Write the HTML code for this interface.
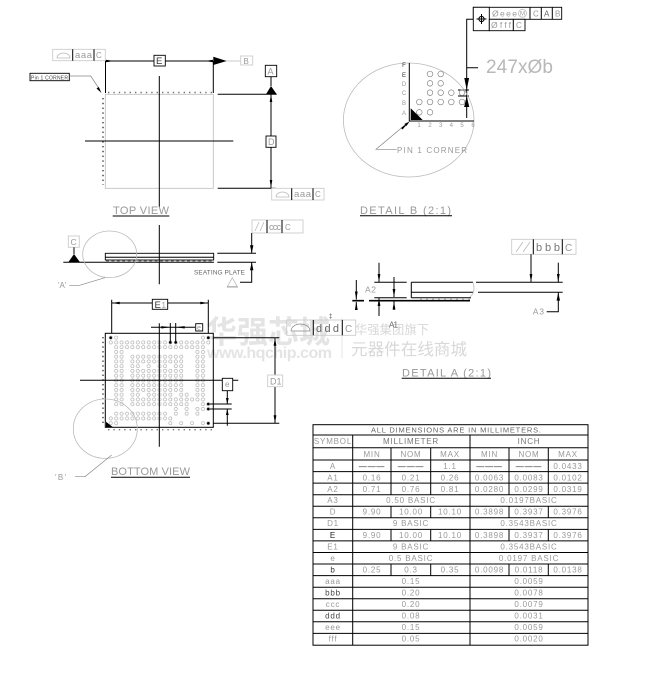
<!DOCTYPE html>
<html><head><meta charset="utf-8"><style>
html,body{margin:0;padding:0;background:#fff}
svg{display:block}
text{font-family:"Liberation Sans","Noto Sans CJK SC",sans-serif;fill:#999}
.k{stroke:#000;stroke-width:1;fill:none}
.g{stroke:#bbb;stroke-width:.8;fill:none}
.d{stroke:#888;stroke-width:.7;fill:none}
.b{fill:#fff;stroke:#000;stroke-width:.9}
.bg{fill:#fff;stroke:#ccc;stroke-width:.9}
.t{font-size:8px;text-anchor:middle;letter-spacing:.8px}
.a{marker-end:url(#a)}
</style></head><body>
<svg width="664" height="679" viewBox="0 0 664 679" xmlns="http://www.w3.org/2000/svg">
<defs>
<marker id="a" markerUnits="userSpaceOnUse" markerWidth="8" markerHeight="4" refX="8" refY="2" orient="auto"><path d="M0 .6L8 2L0 3.4z" fill="#000"/></marker>
<pattern id="r" patternUnits="userSpaceOnUse" x="108" y="335.3" width="5.42" height="4.75"><circle cx="2.71" cy="2.375" r="1.6" fill="none" stroke="#aaa" stroke-width=".6"/></pattern>
</defs>

<!-- watermark -->
<g>
<text x="206" y="343" font-size="31" font-weight="700" style="fill:#e4e4e4" textLength="124">华强芯城</text>
<text x="207" y="358" font-size="16" font-weight="700" style="fill:#e4e4e4;font-family:'Liberation Sans',sans-serif" textLength="125">www.hqchip.com</text>
<line x1="342" y1="318" x2="342" y2="358" stroke="#e4e4e4"/>
<text x="355" y="334" font-size="12.3" style="fill:#d8d8d8" textLength="74">华强集团旗下</text>
<text x="351" y="355" font-size="16.5" style="fill:#d8d8d8" textLength="116">元器件在线商城</text>
</g>

<!-- TOP VIEW -->
<rect x="52.7" y="49.3" width="52.6" height="11.4" class="bg"/>
<path d="M72.7 49.3V60.7M94 49.3V60.7" class="k" stroke-width=".8"/>
<path d="M57 58a6.5 5 0 0 1 13 0z" class="g"/>
<text x="75" y="58" font-size="9.5" textLength="17">aaa</text><text x="96" y="58" font-size="8">C</text>
<line x1="105.5" y1="61" x2="213" y2="61" class="k"/>
<path d="M105.5 61V93M213.3 61V93" class="k"/>
<path d="M114 61l-8-1.2v2.4z" fill="#000"/><path d="M205 61l8-1.2v2.4z" fill="#000"/>
<path d="M213.3 56.7L226.7 61L213.3 65z" fill="#000"/>
<line x1="226" y1="61" x2="240" y2="61" class="g"/>
<rect x="240.7" y="56" width="12" height="9" class="bg"/><text x="243.5" y="64" font-size="8">B</text>
<rect x="154" y="55.3" width="11.3" height="10.7" class="b"/><text x="156" y="64" font-size="9.5" style="fill:#333">E</text>
<rect x="30" y="73.3" width="39.3" height="7.4" class="b"/><text x="31" y="79.5" font-size="5" textLength="37" style="fill:#444">Pin 1 CORNER</text>
<path d="M69.3 76H90.7L100 90" class="d"/><path d="M101.5 93l-5-4.5 2.2-1.5z" fill="#000"/>
<rect x="105.3" y="94.3" width="108" height="94" class="g"/>
<path d="M108 92.5H212" stroke="#777" stroke-width="1.4" stroke-dasharray="1.4 4" fill="none"/>
<path d="M103 98V185" stroke="#555" stroke-width="1.6" stroke-dasharray="1.4 3.4" fill="none"/>
<path d="M159.3 76V206.7M85 141H233.3" class="k"/>
<path d="M217.7 94.3H276.7M217.7 188.3H275.5M271 76.7V86M271 94V188" class="k"/>
<path d="M266 94.3L271 86L276.7 94.3z" fill="#000"/>
<path d="M271 94l-1.3 8h2.6zM271 188l-1.3-8h2.6z" fill="#000"/>
<rect x="265.3" y="65.3" width="11.4" height="11.4" class="b"/><text x="267.5" y="74.5" font-size="9">A</text>
<rect x="266" y="136" width="10" height="11.3" class="b"/><text x="268" y="145" font-size="9">D</text>
<rect x="271.7" y="188.3" width="52.3" height="11.7" class="bg"/>
<path d="M291.7 188.3V200M313 188.3V200" class="k" stroke-width=".8"/>
<path d="M276 197a6.5 5 0 0 1 13 0z" class="g"/>
<text x="294" y="197" font-size="9.5" textLength="17">aaa</text><text x="315" y="197" font-size="8">C</text>
<text x="113" y="214" font-size="11" textLength="56">TOP  VIEW</text>
<line x1="112.7" y1="216" x2="169.3" y2="216" class="k"/>

<!-- DETAIL B -->
<rect x="473.3" y="7.3" width="88.4" height="12" class="b"/>
<rect x="473.3" y="7.3" width="16" height="23.4" class="b"/>
<rect x="489.3" y="19.3" width="35.7" height="11.4" class="b"/>
<path d="M530 7.3V19.3M541.3 7.3V19.3M552.3 7.3V19.3M513.3 19.3V30.7" class="k"/>
<circle cx="481.5" cy="19" r="2.6" class="k" stroke-width=".7"/><path d="M476.5 19H486.5M481.5 14V24" class="k"/>
<text x="492" y="16.5" font-size="8.5" textLength="25">Øeee</text>
<circle cx="522.5" cy="13.3" r="4" class="g"/><text x="520" y="15.5" font-size="6">M</text>
<text x="533" y="16.5" font-size="8">C</text><text x="544" y="16.5" font-size="8" style="fill:#666">A</text><text x="555" y="16.5" font-size="8">B</text>
<text x="491" y="28" font-size="8.5" textLength="20">Øfff</text><text x="516" y="28" font-size="8">C</text>
<path d="M473 19.3H466.7V118M466.7 67.7H478" class="k"/>
<text x="486" y="73" font-size="19" textLength="67" style="fill:#b8b8b8">247xØb</text>
<path d="M466.7 78l-2.4 0 2.4 12 2.4-12zM466.7 107l-2.6 0 2.6-11 2.6 11z" fill="#000"/>
<path d="M458 90H469M458 96H469" class="k"/>
<ellipse cx="408.7" cy="120" rx="65.3" ry="57" class="g"/>
<path d="M409.3 63V121H474" class="k"/>
<path d="M410.7 108.3V120H422.7z" fill="#000"/>
<g class="d">
<circle cx="430" cy="74" r="2.8"/><circle cx="440.7" cy="74" r="2.8"/>
<circle cx="430" cy="83.3" r="2.8"/><circle cx="440.7" cy="83.3" r="2.8"/>
<circle cx="430" cy="92.7" r="2.8"/><circle cx="440.7" cy="92.7" r="2.8"/><circle cx="451.3" cy="92.7" r="2.8"/><circle cx="462" cy="92.7" r="2.8"/>
<circle cx="419.3" cy="102" r="2.8"/><circle cx="430" cy="102" r="2.8"/><circle cx="440.7" cy="102" r="2.8"/><circle cx="451.3" cy="102" r="2.8"/><circle cx="462" cy="102" r="2.8"/>
<circle cx="419.3" cy="112.3" r="2.8"/><circle cx="430" cy="112.3" r="2.8"/>
</g>
<g font-size="6" text-anchor="middle">
<text x="404" y="67" style="fill:#333">F</text><text x="404" y="77" style="fill:#333">E</text><text x="404" y="86">D</text><text x="404" y="95">C</text><text x="404" y="105">B</text><text x="404" y="115">A</text>
<text x="419" y="127">1</text><text x="430" y="127">2</text><text x="440.7" y="127">3</text><text x="451.3" y="127">4</text><text x="462" y="127">5</text><text x="473" y="127">6</text>
</g>
<path d="M405 125L376 149.3H396.7" class="d"/><path d="M409.5 121.5l-3 4.5-2.2-2z" fill="#000"/><path d="M409 122l-8 6 1.5 1.5z" fill="#000"/>
<text x="397" y="153" font-size="8" textLength="70">PIN  1  CORNER</text>
<text x="360" y="214" font-size="11" textLength="91">DETAIL  B  (2:1)</text>
<line x1="360" y1="215.8" x2="452" y2="215.8" class="k"/>

<!-- SIDE VIEW -->
<rect x="105.3" y="253.3" width="108.4" height="6.7" class="b" style="fill:none"/>
<line x1="105.3" y1="257.3" x2="213.7" y2="257.3" class="k"/>
<line x1="63.3" y1="262.3" x2="214" y2="262.3" class="k"/>
<line x1="106" y1="261" x2="213" y2="261" stroke="#777" stroke-width="1" stroke-dasharray="3 2.4"/>
<path d="M217.3 253.3H256M217.3 262.3H256M159.3 225V284.3" class="k"/>
<ellipse cx="109.7" cy="254.3" rx="27" ry="23.3" class="g"/>
<path d="M105 277.7L78.3 285.7H69.3" class="d"/>
<text x="58" y="288" font-size="8">'A'</text>
<rect x="68.3" y="236" width="11" height="11.3" class="bg"/><text x="70.5" y="245" font-size="8.5">C</text>
<line x1="74" y1="247.3" x2="74" y2="254" class="k" stroke-width=".7"/>
<path d="M74 254L80 262.3H68.3z" fill="#000"/>
<rect x="252" y="220" width="51" height="13" class="bg"/>
<path d="M267 220V233M282 220V233" class="k" stroke-width=".8"/>
<path d="M255 231L259 222M260 231L264 222" class="g"/>
<text x="269" y="230" font-size="9" textLength="12">ccc</text><text x="285" y="230" font-size="8">C</text>
<path d="M251.7 233V253M251.7 262.4V282.3H240" class="k"/>
<path d="M251.7 253.3l-1.7-8h3.4zM251.7 262.3l-1.7 8h3.4z" fill="#000"/>
<text x="194" y="274.3" font-size="6.5" textLength="51" style="fill:#666">SEATING PLATE</text>
<path d="M232.3 277.7L237.3 286.7H227.3z" class="g"/><line x1="227" y1="287" x2="238" y2="287" class="d"/>

<!-- BOTTOM VIEW -->
<path d="M111.7 299.7V333M208.3 299.7V333M111.7 303H208.3" class="k"/>
<path d="M111.7 303l8-1.2v2.4zM208.3 303l-8-1.2v2.4z" fill="#000"/>
<rect x="152.3" y="299.3" width="15.4" height="10" class="b"/><text x="154.5" y="308" font-size="9.5" style="fill:#333">E</text><text x="161.5" y="308" font-size="8">1</text>
<rect x="105.3" y="333.3" width="108" height="94" class="k" stroke-width="1.3"/>
<g fill="url(#r)">
<rect x="108" y="335.3" width="10.84" height="4.75"/><rect x="200.14" y="335.3" width="10.84" height="4.75"/>
<rect x="108" y="340.05" width="102.98" height="4.75"/>
<rect x="113.42" y="344.8" width="92.14" height="4.75"/>
<rect x="113.42" y="349.55" width="10.84" height="4.75"/><rect x="194.72" y="349.55" width="10.84" height="4.75"/>
<rect x="113.42" y="354.3" width="10.84" height="9.5"/><rect x="129.68" y="354.3" width="54.2" height="9.5"/><rect x="194.72" y="354.3" width="10.84" height="9.5"/>
<rect x="113.42" y="363.8" width="10.84" height="4.75"/><rect x="129.68" y="363.8" width="10.84" height="4.75"/><rect x="145.94" y="363.8" width="5.42" height="4.75"/><rect x="156.78" y="363.8" width="10.84" height="4.75"/><rect x="173.04" y="363.8" width="10.84" height="4.75"/><rect x="194.72" y="363.8" width="10.84" height="4.75"/>
<rect x="113.42" y="368.55" width="10.84" height="23.75"/><rect x="129.68" y="368.55" width="54.2" height="23.75"/><rect x="194.72" y="368.55" width="10.84" height="23.75"/>
<rect x="113.42" y="392.3" width="10.84" height="4.75"/><rect x="129.68" y="392.3" width="10.84" height="4.75"/><rect x="145.94" y="392.3" width="27.1" height="4.75"/><rect x="178.46" y="392.3" width="10.84" height="4.75"/><rect x="194.72" y="392.3" width="10.84" height="4.75"/>
<rect x="113.42" y="397.05" width="10.84" height="4.75"/><rect x="129.68" y="397.05" width="75.88" height="4.75"/>
<rect x="113.42" y="401.8" width="10.84" height="4.75"/><rect x="129.68" y="401.8" width="59.62" height="4.75"/><rect x="200.14" y="401.8" width="10.84" height="4.75"/>
<rect x="173.04" y="406.55" width="5.42" height="4.75"/><rect x="183.88" y="406.55" width="5.42" height="4.75"/><rect x="194.72" y="406.55" width="5.42" height="4.75"/><rect x="200.14" y="406.55" width="10.84" height="4.75"/>
<rect x="113.42" y="411.3" width="54.2" height="4.75"/><rect x="173.04" y="411.3" width="5.42" height="4.75"/><rect x="183.88" y="411.3" width="5.42" height="4.75"/><rect x="194.72" y="411.3" width="5.42" height="4.75"/>
<rect x="108" y="416.05" width="65" height="4.75"/>
<rect x="108" y="420.8" width="10.84" height="4.75"/><rect x="167.62" y="420.8" width="5.42" height="4.75"/><rect x="178.46" y="420.8" width="5.42" height="4.75"/><rect x="189.3" y="420.8" width="5.42" height="4.75"/><rect x="200.14" y="420.8" width="10.84" height="4.75"/>
</g>
<g fill="#000">
<circle cx="110.7" cy="337.7" r="1.3"/><circle cx="208.3" cy="337.7" r="1.3"/><circle cx="170.3" cy="342.4" r="1.3"/><circle cx="175.7" cy="342.4" r="1.3"/>
<circle cx="208.3" cy="404" r="1.3"/><circle cx="208.3" cy="409" r="1.3"/><circle cx="208.3" cy="423.3" r="1.3"/>
</g>
<path d="M106 421.7V427H112.7z" fill="#000"/>
<path d="M103 337V423" stroke="#555" stroke-width="1.6" stroke-dasharray="1.4 3.3" fill="none"/>
<path d="M108 429.7H212" stroke="#777" stroke-width="1.4" stroke-dasharray="1.4 4" fill="none"/>
<path d="M159.3 323.3V446.7M80 380.3H238.3" class="k"/>
<path d="M170.3 323V341.7M175.7 323V341.7M151 327.3H195" class="k"/>
<path d="M170.3 327.3l-9-1.2v2.4zM175.7 327.3l9-1.2v2.4z" fill="#000"/>
<rect x="195.7" y="323.7" width="7" height="7.3" class="b"/><text x="197" y="330" font-size="7">e</text>
<path d="M213.3 337.7H279.3M213.3 423.3H279.3M275 337.7V375M275 386.7V423.3" class="k"/>
<path d="M275 337.7l-1.4 8h2.8zM275 423.3l-1.4-8h2.8z" fill="#000"/>
<rect x="267.7" y="375" width="15" height="11.7" class="bg"/><text x="270" y="384.5" font-size="9">D1</text>
<rect x="222.3" y="378.3" width="10.4" height="12.4" class="b"/><text x="225" y="387" font-size="8">e</text>
<path d="M210 404H231.7M210 409H231.7M227.3 390.7V404M227.3 409V425.7" class="k"/>
<path d="M227.3 404l-1.4-6h2.8zM227.3 409l-1.4 6h2.8z" fill="#000"/>
<ellipse cx="105.3" cy="428.7" rx="32" ry="29.7" class="g"/>
<path d="M111.7 455L85 476.7H75" class="d"/>
<text x="55" y="480" font-size="8" textLength="11">'B'</text>
<text x="111" y="475" font-size="11" textLength="79">BOTTOM  VIEW</text>
<line x1="111" y1="477.3" x2="190" y2="477.3" class="k"/>

<!-- ddd -->
<rect x="286.7" y="320" width="69" height="15.3" class="bg" style="fill:none"/>
<path d="M313.3 320V335.3M342.3 320V335.3" class="k" stroke-width=".9"/>
<path d="M291 331a9.5 7 0 0 1 19 0z" class="d"/><text x="316" y="332" font-size="11" textLength="23" style="fill:#666">ddd</text><text x="345" y="332" font-size="10">C</text>
<text x="329" y="318" font-size="6" style="fill:#333">‡</text>

<!-- DETAIL A -->
<rect x="511.7" y="239.3" width="64.3" height="15" class="bg"/>
<path d="M533.3 239.3V254.3M562.3 239.3V254.3" class="k"/>
<path d="M516 252L523 242M523 252L530 242" class="g"/>
<text x="536" y="251" font-size="11" textLength="24" style="fill:#777">bbb</text><text x="565" y="251" font-size="10">C</text>
<line x1="531" y1="254.3" x2="531" y2="282" class="k a"/>
<path d="M411.3 282.3H473M476 282.3H562.7M478 292.3H562.7M411.3 292.3H473M411.3 282.3V297.7M411.3 297.7H471" class="k"/>
<path d="M473 282.3Q476 292 470 297" class="g"/>
<path d="M369 300.7H470M352.3 300.7H364" stroke="#000" stroke-width="1.7" fill="none"/>
<path d="M420 299.3H470" stroke="#999" stroke-width="1" stroke-dasharray="2 4" fill="none"/>
<path d="M374.3 282.3H406.7M374.3 297.7H406.7" class="k"/>
<line x1="379" y1="262.7" x2="379" y2="282" class="k a"/><line x1="379" y1="316" x2="379" y2="298" class="k a"/>
<line x1="394" y1="277" x2="394" y2="297" class="k a"/><line x1="394" y1="310" x2="394" y2="301.5" class="k a"/>
<line x1="356.3" y1="280" x2="356.3" y2="299.5" class="k a"/><line x1="356.3" y1="310" x2="356.3" y2="302" class="k a"/>
<line x1="558.3" y1="262.7" x2="558.3" y2="282" class="k a"/>
<path d="M558.3 292.6V311.7H546.7" class="k"/><path d="M558.3 292.6l-1.7 8h3.4z" fill="#000"/>
<text x="365" y="292.3" font-size="8.5" textLength="11">A2</text>
<text x="389" y="327.7" font-size="8" textLength="9" style="fill:#666">A1</text>
<text x="532.7" y="314.3" font-size="8.5" textLength="11.3">A3</text>
<text x="402" y="376.7" font-size="11" textLength="89">DETAIL  A  (2:1)</text>
<line x1="401.7" y1="378.3" x2="491" y2="378.3" class="k"/>

<!-- TABLE -->
<g class="k" stroke-width=".9">
<rect x="313" y="424.7" width="275" height="220.5"/>
<path d="M313 435H588M313 447.7H588M313 460H588M313 471.6H588M313 483.1H588M313 494.7H588M313 506.2H588M313 517.8H588M313 529.4H588M313 540.9H588M313 552.5H588M313 564H588M313 575.6H588M313 587.2H588M313 598.7H588M313 610.3H588M313 621.8H588M313 633.4H588"/>
<path d="M352.7 435V645.2M470 435V645.2"/>
<path d="M391 447.7V494.7M430.7 447.7V494.7M509 447.7V494.7M548.3 447.7V494.7"/>
<path d="M391 506.2V517.8M430.7 506.2V517.8M509 506.2V517.8M548.3 506.2V517.8"/>
<path d="M391 529.4V540.9M430.7 529.4V540.9M509 529.4V540.9M548.3 529.4V540.9"/>
<path d="M391 564V575.6M430.7 564V575.6M509 564V575.6M548.3 564V575.6"/>
</g>
<text x="371" y="432.5" font-size="7.5" textLength="170" style="fill:#666">ALL  DIMENSIONS  ARE  IN  MILLIMETERS.</text>
<text class="t" x="333" y="444">SYMBOL</text><text class="t" x="411" y="444" style="fill:#777">MILLIMETER</text><text class="t" x="529" y="444" style="fill:#777">INCH</text>
<g font-size="7">
<text class="t" x="372" y="457">MIN</text><text class="t" x="411" y="457">NOM</text><text class="t" x="450" y="457">MAX</text><text class="t" x="489.5" y="457">MIN</text><text class="t" x="529" y="457">NOM</text><text class="t" x="568" y="457">MAX</text>
<text class="t" x="333" y="469">A</text><text class="t" x="372" y="469" style="fill:#222">———</text><text class="t" x="411" y="469" style="fill:#222">———</text><text class="t" x="450" y="469">1.1</text><text class="t" x="489.5" y="469" style="fill:#222">———</text><text class="t" x="529" y="469" style="fill:#222">———</text><text class="t" x="568" y="469">0.0433</text>
<text class="t" x="333" y="480.5">A1</text><text class="t" x="372" y="480.5">0.16</text><text class="t" x="411" y="480.5">0.21</text><text class="t" x="450" y="480.5">0.26</text><text class="t" x="489.5" y="480.5">0.0063</text><text class="t" x="529" y="480.5">0.0083</text><text class="t" x="568" y="480.5">0.0102</text>
<text class="t" x="333" y="492">A2</text><text class="t" x="372" y="492">0.71</text><text class="t" x="411" y="492">0.76</text><text class="t" x="450" y="492">0.81</text><text class="t" x="489.5" y="492">0.0280</text><text class="t" x="529" y="492">0.0299</text><text class="t" x="568" y="492">0.0319</text>
<text class="t" x="333" y="503">A3</text><text class="t" x="411" y="503">0.50  BASIC</text><text class="t" x="529" y="503">0.0197BASIC</text>
<text class="t" x="333" y="514.5">D</text><text class="t" x="372" y="514.5">9.90</text><text class="t" x="411" y="514.5">10.00</text><text class="t" x="450" y="514.5">10.10</text><text class="t" x="489.5" y="514.5">0.3898</text><text class="t" x="529" y="514.5">0.3937</text><text class="t" x="568" y="514.5">0.3976</text>
<text class="t" x="333" y="526">D1</text><text class="t" x="411" y="526">9  BASIC</text><text class="t" x="529" y="526">0.3543BASIC</text>
<text class="t" x="333" y="538" style="fill:#222">E</text><text class="t" x="372" y="538">9.90</text><text class="t" x="411" y="538">10.00</text><text class="t" x="450" y="538">10.10</text><text class="t" x="489.5" y="538">0.3898</text><text class="t" x="529" y="538">0.3937</text><text class="t" x="568" y="538">0.3976</text>
<text class="t" x="333" y="549.5">E1</text><text class="t" x="411" y="549.5">9  BASIC</text><text class="t" x="529" y="549.5">0.3543BASIC</text>
<text class="t" x="333" y="561">e</text><text class="t" x="411" y="561">0.5  BASIC</text><text class="t" x="529" y="561">0.0197  BASIC</text>
<text class="t" x="333" y="572.5" style="fill:#333">b</text><text class="t" x="372" y="572.5">0.25</text><text class="t" x="411" y="572.5">0.3</text><text class="t" x="450" y="572.5">0.35</text><text class="t" x="489.5" y="572.5">0.0098</text><text class="t" x="529" y="572.5">0.0118</text><text class="t" x="568" y="572.5">0.0138</text>
<text class="t" x="333" y="584">aaa</text><text class="t" x="411" y="584">0.15</text><text class="t" x="529" y="584">0.0059</text>
<text class="t" x="333" y="595.5" style="fill:#444">bbb</text><text class="t" x="411" y="595.5">0.20</text><text class="t" x="529" y="595.5">0.0078</text>
<text class="t" x="333" y="607">ccc</text><text class="t" x="411" y="607">0.20</text><text class="t" x="529" y="607">0.0079</text>
<text class="t" x="333" y="618.5" style="fill:#444">ddd</text><text class="t" x="411" y="618.5">0.08</text><text class="t" x="529" y="618.5">0.0031</text>
<text class="t" x="333" y="630">eee</text><text class="t" x="411" y="630">0.15</text><text class="t" x="529" y="630">0.0059</text>
<text class="t" x="333" y="641.5">fff</text><text class="t" x="411" y="641.5">0.05</text><text class="t" x="529" y="641.5">0.0020</text>
</g>
</svg>
</body></html>
